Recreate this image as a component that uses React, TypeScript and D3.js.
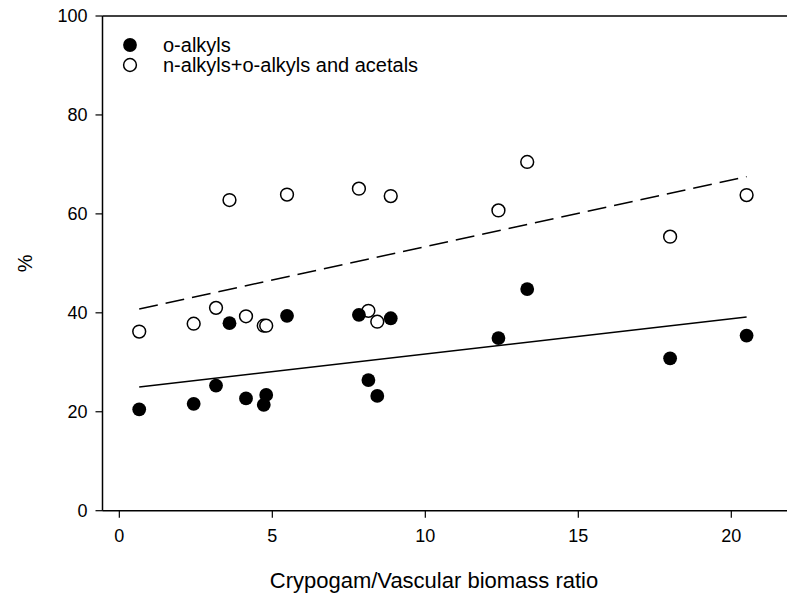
import React from "react";
import * as d3 from "d3";

// Crypogam/Vascular biomass ratio for each site
const ratio = [0.65, 2.43, 3.16, 3.6, 4.14, 4.72, 4.8, 5.48, 7.83, 8.14, 8.43, 8.87, 12.39, 13.33, 18.0, 20.5];
// o-alkyls (%)
const oAlkyls = [20.5, 21.6, 25.3, 37.9, 22.7, 21.4, 23.4, 39.4, 39.6, 26.4, 23.2, 38.9, 34.9, 44.8, 30.8, 35.4];
// n-alkyls + o-alkyls and acetals (%)
const nAlkylsAcetals = [36.2, 37.8, 41.0, 62.8, 39.3, 37.4, 37.4, 63.9, 65.1, 40.4, 38.2, 63.6, 60.7, 70.5, 55.4, 63.8];

// Linear fits: [intercept, slope]
const fitOAlkyls = [24.55, 0.712];
const fitNAlkyls = [39.9, 1.348];

const xTicks = [0, 5, 10, 15, 20];
const yTicks = [0, 20, 40, 60, 80, 100];

const legendLabels = ["o-alkyls", "n-alkyls+o-alkyls and acetals"];

const W = 787;
const H = 598;
const FONT = "Arial, 'Liberation Sans', Helvetica, sans-serif";

export default function App() {
  const x = d3.scaleLinear().domain([-0.55, 22]).range([102.5, 792.5]);
  const y = d3.scaleLinear().domain([0, 100]).range([510.7, 16]);
  const x0 = x.range()[0];
  const y0 = y.range()[0];
  const yTop = y.range()[1];

  const xMin = d3.min(ratio) as number;
  const xMax = d3.max(ratio) as number;

  const fitPath = (fit: number[]) =>
    d3
      .line<number>()
      .x((d) => x(d))
      .y((d) => y(fit[0] + fit[1] * d))([xMin, xMax]) as string;

  return (
    <svg
      width={W}
      height={H}
      style={{ position: "absolute", left: 0, top: 0, background: "#fff" }}
      fontFamily={FONT}
    >
      {/* frame: left, top, bottom */}
      <line x1={x0} x2={W + 10} y1={yTop} y2={yTop} stroke="#000" strokeWidth={1.5} />
      <line x1={x0} x2={W + 10} y1={y0} y2={y0} stroke="#000" strokeWidth={1.5} />
      <line x1={x0} x2={x0} y1={yTop} y2={y0} stroke="#000" strokeWidth={1.5} />

      {/* y ticks */}
      {yTicks.map((t) => (
        <g key={"y" + t}>
          <line x1={x0 - 7} x2={x0} y1={y(t)} y2={y(t)} stroke="#000" strokeWidth={1.2} />
          <text x={x0 - 15} y={y(t)} dy="0.36em" textAnchor="end" fontSize={18} fill="#000">
            {t}
          </text>
        </g>
      ))}

      {/* x ticks */}
      {xTicks.map((t) => (
        <g key={"x" + t}>
          <line x1={x(t)} x2={x(t)} y1={y0} y2={y0 + 7} stroke="#000" strokeWidth={1.2} />
          <text x={x(t)} y={y0 + 31} textAnchor="middle" fontSize={18} fill="#000">
            {t}
          </text>
        </g>
      ))}

      {/* axis titles */}
      <text x={434} y={588} textAnchor="middle" fontSize={22} fill="#000">
        Crypogam/Vascular biomass ratio
      </text>
      <text
        transform={`translate(32,${y(50)}) rotate(-90)`}
        textAnchor="middle"
        fontSize={20}
        fill="#000"
      >
        %
      </text>

      {/* regression lines */}
      <path d={fitPath(fitOAlkyls)} fill="none" stroke="#000" strokeWidth={1.5} />
      <path
        d={fitPath(fitNAlkyls)}
        fill="none"
        stroke="#000"
        strokeWidth={1.5}
        strokeDasharray="19,8"
      />

      {/* points */}
      {ratio.map((r, i) => (
        <circle
          key={"o" + i}
          cx={x(r)}
          cy={y(nAlkylsAcetals[i])}
          r={6.4}
          fill="#fff"
          stroke="#000"
          strokeWidth={1.5}
        />
      ))}
      {ratio.map((r, i) => (
        <circle key={"f" + i} cx={x(r)} cy={y(oAlkyls[i])} r={6.9} fill="#000" />
      ))}

      {/* legend */}
      <circle cx={130} cy={45} r={6.9} fill="#000" />
      <text x={163} y={45} dy="0.36em" fontSize={20} fill="#000">
        {legendLabels[0]}
      </text>
      <circle cx={130} cy={65} r={6.4} fill="#fff" stroke="#000" strokeWidth={1.5} />
      <text x={163} y={65} dy="0.36em" fontSize={20} fill="#000">
        {legendLabels[1]}
      </text>
    </svg>
  );
}
